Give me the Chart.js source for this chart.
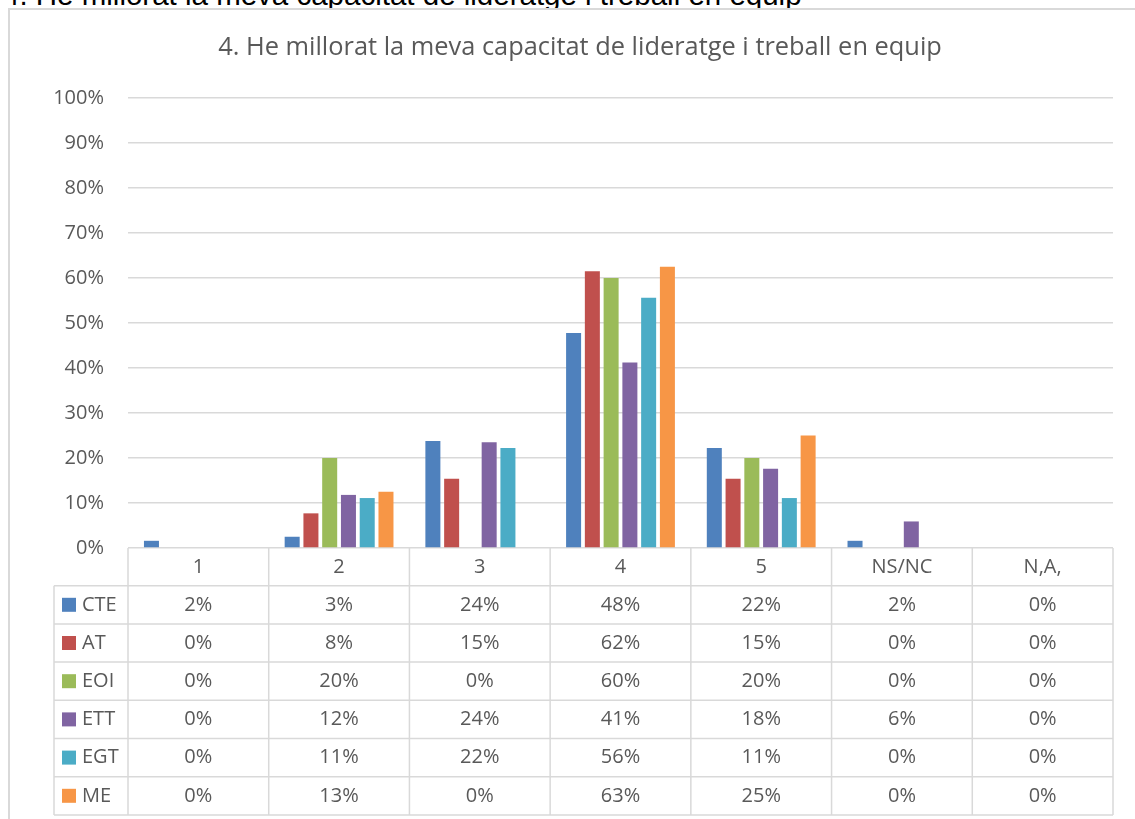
<!DOCTYPE html>
<html>
<head>
<meta charset="utf-8">
<script src="https://cdn.jsdelivr.net/npm/chart.js@4"></script>
<style>
  body { margin: 0; background: #fff; overflow: hidden; width: 1135px; height: 819px; position: relative; }
  #heading {
    position: absolute; left: 3px; top: -20px; white-space: nowrap;
    font-family: "Liberation Sans", Arial, sans-serif; font-size: 29.5px; line-height: 29.5px; color: #000;
  }
  #box { position: absolute; left: 8px; top: 8px; width: 1144px; height: 830px; background: #fff; }
</style>
</head>
<body>
<div id="heading">4. He millorat la meva capacitat de lideratge i treball en equip</div>
<div id="box"><canvas id="diagramm" width="1144" height="830"></canvas></div>
<script>
const chartTitle = "4. He millorat la meva capacitat de lideratge i treball en equip";
const categories = ["1", "2", "3", "4", "5", "NS/NC", "N,A,"];
const seriesNames = ["CTE", "AT", "EOI", "ETT", "EGT", "ME"];
const seriesColors = ["#4F81BD", "#C0504D", "#9BBB59", "#8064A2", "#4BACC6", "#F79646"];

// percentages per answer
const cte = [1.6, 2.5, 23.8, 47.8, 22.2, 1.6, 0];
const at = [0, 7.7, 15.4, 61.5, 15.4, 0, 0];
const eoi = [0, 20, 0, 60, 20, 0, 0];
const ett = [0, 11.8, 23.5, 41.2, 17.6, 5.9, 0];
const egt = [0, 11.1, 22.2, 55.6, 11.1, 0, 0];
const me = [0, 12.5, 0, 62.5, 25, 0, 0];
const seriesValues = [cte, at, eoi, ett, egt, me];

const yTicks = [0, 10, 20, 30, 40, 50, 60, 70, 80, 90, 100];

const FONT = '"Open Sans", sans-serif';
const TEXT = "#595959";
const LINE = "#d9d9d9";

const headerHeight = 37.7;
const rowHeight = 38.2;
const legendLeft = 46;

const tablePlugin = {
  id: "dataTable",
  beforeDraw(chart) {
    const ctx = chart.ctx;
    ctx.save();
    ctx.fillStyle = "#fff";
    ctx.fillRect(0, 0, chart.width, chart.height);
    ctx.strokeStyle = LINE;
    ctx.lineWidth = 2;
    ctx.strokeRect(1, 1, chart.width, chart.height);
    ctx.restore();
  },
  afterDraw(chart) {
    const ctx = chart.ctx;
    const area = chart.chartArea;
    const colW = (area.right - area.left) / categories.length;
    const top = area.bottom;
    const rowsTop = top + headerHeight;
    const bottom = rowsTop + rowHeight * seriesNames.length;

    ctx.save();
    ctx.strokeStyle = LINE;
    ctx.lineWidth = 1.5;
    ctx.beginPath();
    for (let k = 0; k <= seriesNames.length; k++) {
      const y = rowsTop + k * rowHeight;
      ctx.moveTo(legendLeft, y);
      ctx.lineTo(area.right, y);
    }
    ctx.moveTo(legendLeft, rowsTop);
    ctx.lineTo(legendLeft, bottom);
    for (let i = 0; i <= categories.length; i++) {
      const x = area.left + i * colW;
      ctx.moveTo(x, top);
      ctx.lineTo(x, bottom);
    }
    ctx.stroke();

    ctx.fillStyle = TEXT;
    ctx.font = "20px " + FONT;
    ctx.textBaseline = "middle";
    ctx.textAlign = "center";
    const xs = chart.scales.x;
    categories.forEach((c, i) => {
      ctx.fillText(c, xs.getPixelForValue(i), top + headerHeight / 2);
    });

    seriesNames.forEach((name, k) => {
      const cy = rowsTop + rowHeight * (k + 0.5);
      ctx.fillStyle = seriesColors[k];
      ctx.fillRect(54, cy - 7, 14, 14);
      ctx.fillStyle = TEXT;
      ctx.textAlign = "left";
      ctx.fillText(name, 74, cy);
      ctx.textAlign = "center";
      seriesValues[k].forEach((v, i) => {
        ctx.fillText(Math.round(v) + "%", xs.getPixelForValue(i), cy);
      });
    });

    ctx.font = "25.4px " + FONT;
    ctx.fillText(chartTitle, chart.width / 2, 40);
    ctx.restore();
  },
};

const ctx = document.getElementById("diagramm").getContext("2d");
new Chart(ctx, {
  type: "bar",
  data: {
    labels: categories,
    datasets: seriesNames.map((name, k) => ({
      label: name,
      data: seriesValues[k],
      backgroundColor: seriesColors[k],
      borderWidth: 0,
      categoryPercentage: 0.8,
      barPercentage: 0.8,
    })),
  },
  options: {
    responsive: false,
    animation: false,
    layout: { padding: { top: 90, right: 39, bottom: 290, left: 0 } },
    plugins: {
      legend: { display: false },
      tooltip: { enabled: false },
      title: { display: false },
    },
    scales: {
      x: { display: false },
      y: {
        min: 0,
        max: 100,
        afterBuildTicks(scale) {
          scale.ticks = yTicks.map((v) => ({ value: v }));
        },
        afterFit(scale) {
          scale.width = 120;
        },
        ticks: {
          callback: (v) => v + "%",
          color: TEXT,
          font: { family: FONT, size: 20 },
          padding: 24,
        },
        grid: { color: LINE, lineWidth: 1.5, drawTicks: false },
        border: { display: false },
      },
    },
  },
  plugins: [tablePlugin],
});
</script>
</body>
</html>
